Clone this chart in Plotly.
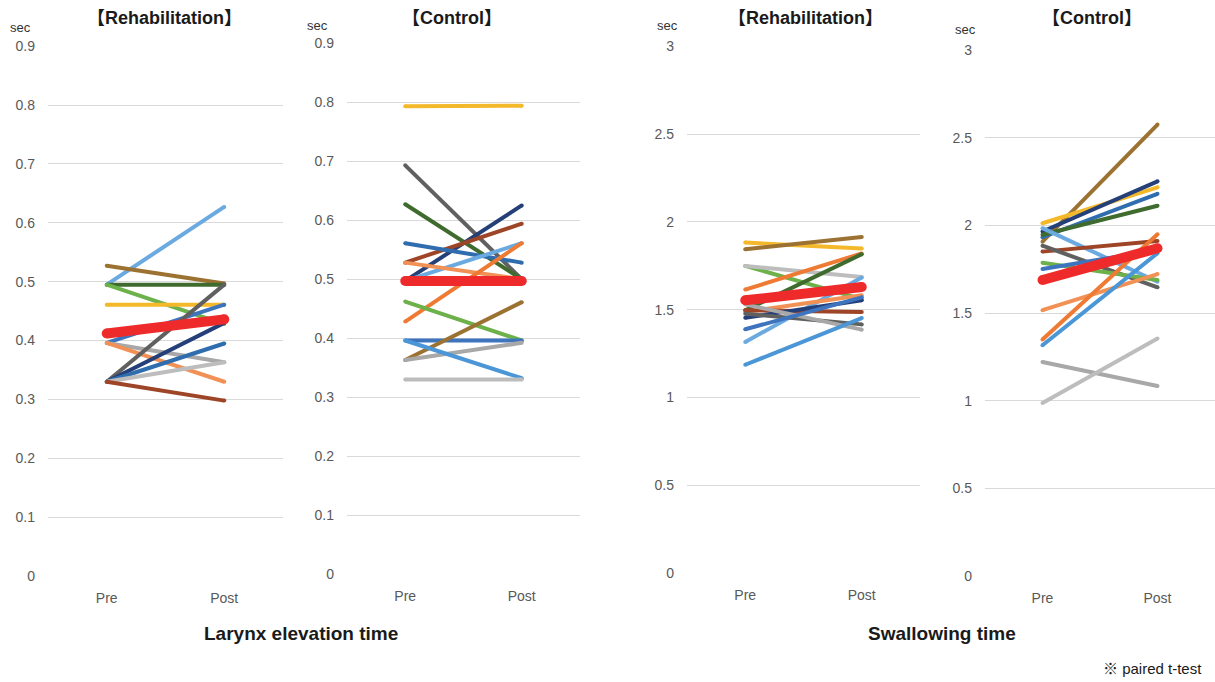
import plotly.graph_objects as go

W, H = 1215, 682

phases = ["Pre", "Post"]

# Colour palette (per subject series)
C = {
    "lblue": "#6AAAE0", "brown": "#9C7232", "dgreen": "#3F6B2E", "green": "#6DB14B",
    "yellow": "#F4B92A", "blue": "#3E74BE", "gray": "#A8A8A8", "lorange": "#F19155",
    "dgray": "#606060", "navy": "#253F78", "bred": "#9E4427", "orange": "#EE7A33",
    "steel": "#2F6DAE", "lgray": "#BDBDBD", "sblue": "#4A96D6",
}
RED = "#EE2A2A"

# Larynx elevation time – Rehabilitation (pre, post)
lar_rehab_names = ["lblue", "brown", "dgreen", "green", "yellow", "blue", "gray", "lorange",
                   "dgray", "navy", "steel", "lgray", "bred"]
lar_rehab_pre = [0.495, 0.527, 0.495, 0.495, 0.461, 0.396, 0.396, 0.396, 0.330, 0.330, 0.330, 0.330, 0.330]
lar_rehab_post = [0.627, 0.497, 0.495, 0.428, 0.461, 0.461, 0.363, 0.330, 0.495, 0.430, 0.395, 0.363, 0.298]
lar_rehab_mean = [0.412, 0.436]

# Larynx elevation time – Control
lar_ctrl_names = ["yellow", "dgray", "dgreen", "navy", "bred", "steel", "lblue", "lorange",
                  "orange", "green", "blue", "brown", "gray", "sblue", "lgray"]
lar_ctrl_pre = [0.793, 0.693, 0.627, 0.497, 0.528, 0.561, 0.497, 0.528, 0.428, 0.462, 0.396, 0.363, 0.363, 0.396, 0.330]
lar_ctrl_post = [0.794, 0.500, 0.500, 0.625, 0.594, 0.528, 0.561, 0.500, 0.561, 0.396, 0.396, 0.461, 0.392, 0.332, 0.330]
lar_ctrl_mean = [0.497, 0.497]

# Swallowing time – Rehabilitation
sw_rehab_names = ["yellow", "brown", "green", "lgray", "orange", "dgreen", "lblue", "lorange",
                  "bred", "navy", "dgray", "gray", "blue", "sblue"]
sw_rehab_pre = [1.882, 1.844, 1.749, 1.749, 1.614, 1.496, 1.316, 1.487, 1.496, 1.454, 1.477, 1.530, 1.388, 1.186]
sw_rehab_post = [1.848, 1.914, 1.560, 1.686, 1.820, 1.816, 1.683, 1.582, 1.487, 1.553, 1.416, 1.386, 1.570, 1.452]
sw_rehab_mean = [1.553, 1.629]

# Swallowing time – Control
sw_ctrl_names = ["brown", "yellow", "navy", "steel", "dgreen", "lblue", "bred", "dgray", "green",
                 "blue", "lorange", "orange", "sblue", "gray", "lgray"]
sw_ctrl_pre = [1.908, 2.013, 1.966, 1.933, 1.947, 1.985, 1.851, 1.885, 1.788, 1.752, 1.517, 1.349, 1.317, 1.221, 0.987]
sw_ctrl_post = [2.576, 2.218, 2.252, 2.181, 2.113, 1.679, 1.912, 1.647, 1.689, 1.860, 1.723, 1.950, 1.842, 1.084, 1.355]
sw_ctrl_mean = [1.689, 1.870]

panels = [
    dict(names=lar_rehab_names, pre=lar_rehab_pre, post=lar_rehab_post, mean=lar_rehab_mean,
         xd=(48, 283), y0=576, ytop=46, top=0.9, dtick=0.1, title="【Rehabilitation】", tx=164, sx=20, sy=28),
    dict(names=lar_ctrl_names, pre=lar_ctrl_pre, post=lar_ctrl_post, mean=lar_ctrl_mean,
         xd=(347, 580), y0=574, ytop=43, top=0.9, dtick=0.1, title="【Control】", tx=452, sx=317, sy=26),
    dict(names=sw_rehab_names, pre=sw_rehab_pre, post=sw_rehab_post, mean=sw_rehab_mean,
         xd=(687, 920), y0=573, ytop=46, top=3.0, dtick=0.5, title="【Rehabilitation】", tx=805, sx=667, sy=26),
    dict(names=sw_ctrl_names, pre=sw_ctrl_pre, post=sw_ctrl_post, mean=sw_ctrl_mean,
         xd=(985, 1215), y0=576, ytop=50, top=3.0, dtick=0.5, title="【Control】", tx=1092, sx=965, sy=30),
]

fig = go.Figure()
FONT = "Liberation Sans, Arial, Noto Sans CJK JP, sans-serif"
annotations = []
for i, p in enumerate(panels, start=1):
    xa = "x" if i == 1 else f"x{i}"
    ya = "y" if i == 1 else f"y{i}"
    for n, a, b in zip(p["names"], p["pre"], p["post"]):
        fig.add_trace(go.Scatter(x=[0, 1], y=[a, b], mode="lines+markers", xaxis=xa, yaxis=ya,
                                 line=dict(color=C[n], width=4), marker=dict(color=C[n], size=4),
                                 showlegend=False, hoverinfo="skip", cliponaxis=False))
    fig.add_trace(go.Scatter(x=[0, 1], y=p["mean"], mode="lines+markers", xaxis=xa, yaxis=ya,
                             line=dict(color=RED, width=10), marker=dict(color=RED, size=10),
                             showlegend=False, hoverinfo="skip", cliponaxis=False))
    xkey = "xaxis" if i == 1 else f"xaxis{i}"
    ykey = "yaxis" if i == 1 else f"yaxis{i}"
    ydom = (1 - p["y0"] / H, 1 - p["ytop"] / H)
    ticks = [round(k * p["dtick"], 2) for k in range(int(round(p["top"] / p["dtick"])) + 1)]
    fig.update_layout(**{
        xkey: dict(domain=[p["xd"][0] / W, p["xd"][1] / W], range=[-0.5, 1.5], tickvals=[0, 1],
                   ticktext=phases, showgrid=False, zeroline=False, showline=False, anchor=ya,
                   tickfont=dict(family=FONT, size=14, color="#595959"), ticks="", ticklabelstandoff=12,
                   fixedrange=True, automargin=False),
        ykey: dict(domain=list(ydom), range=[0, p["top"] * 1.0005], tickvals=ticks,
                   ticktext=[("%g" % t) for t in ticks], showgrid=True, gridcolor="#D9D9D9", gridwidth=1,
                   zeroline=False, showline=False, anchor=xa, ticks="", ticklabelstandoff=12,
                   tickfont=dict(family=FONT, size=14, color="#595959"), fixedrange=True, automargin=False),
    })
    annotations.append(dict(text="<b>" + p["title"] + "</b>", x=p["tx"] / W, y=1 - 18 / H, xref="paper",
                            yref="paper", showarrow=False, font=dict(family=FONT, size=18, color="#1a1a1a"),
                            xanchor="center", yanchor="middle"))
    annotations.append(dict(text="sec", x=p["sx"] / W, y=1 - p["sy"] / H, xref="paper", yref="paper",
                            showarrow=False, font=dict(family=FONT, size=13, color="#333333"),
                            xanchor="center", yanchor="middle"))

annotations.append(dict(text="<b>Larynx elevation time</b>", x=301 / W, y=1 - 633 / H, xref="paper",
                        yref="paper", showarrow=False, font=dict(family=FONT, size=19, color="#1a1a1a"),
                        xanchor="center", yanchor="middle"))
annotations.append(dict(text="<b>Swallowing time</b>", x=942 / W, y=1 - 633 / H, xref="paper",
                        yref="paper", showarrow=False, font=dict(family=FONT, size=19, color="#1a1a1a"),
                        xanchor="center", yanchor="middle"))
annotations.append(dict(text="※ paired t-test", x=1204 / W, y=1 - 668 / H, xref="paper", yref="paper",
                        showarrow=False, font=dict(family=FONT, size=15, color="#1a1a1a"),
                        xanchor="right", yanchor="middle"))

fig.update_layout(width=W, height=H, margin=dict(l=0, r=0, t=0, b=0, autoexpand=False),
                  plot_bgcolor="white", paper_bgcolor="white", annotations=annotations, showlegend=False)

fig.write_html("out.html", config={"displayModeBar": False},
               post_script="document.body.style.margin='0';document.body.style.overflow='hidden';")
